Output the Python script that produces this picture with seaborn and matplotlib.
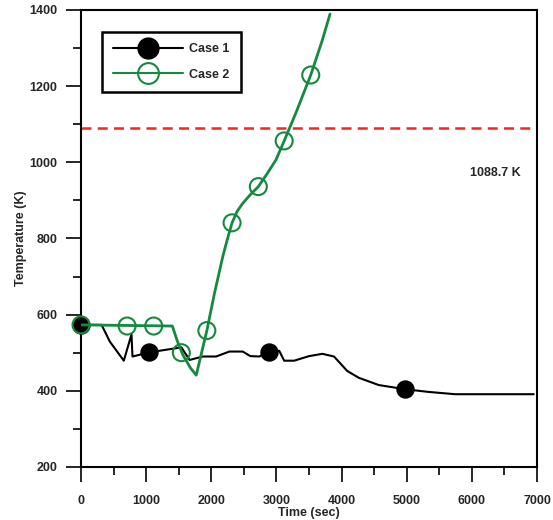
import numpy as np
import pandas as pd
import matplotlib.pyplot as plt
import seaborn as sns
from matplotlib.lines import Line2D
from matplotlib.ticker import MultipleLocator

# Case 1 curve
case1_time = [0, 316, 443, 657, 775, 790, 1055, 1540, 1667, 1870, 2075, 2278, 2482, 2600, 2737,
              2880, 3043, 3119, 3272, 3502, 3705, 3884, 4087, 4266, 4572, 4980, 5336, 5745, 6950]
case1_temp = [573, 573, 529, 479, 548, 490, 501, 514, 481, 490, 490, 503, 503, 491, 490,
              501, 505, 479, 479, 491, 497, 490, 452, 434, 415, 404, 397, 391, 391]
case1_mark_time = [0, 1050, 2880, 4980]
case1_mark_temp = [573, 501, 501, 404]

# Case 2 curve
case2_time = [0, 1402, 1480, 1565, 1680, 1769, 1932, 2049, 2176, 2250, 2319, 2400, 2482, 2600,
              2722, 2850, 2992, 3119, 3300, 3527, 3700, 3823]
case2_temp = [573, 570, 530, 494, 460, 441, 558, 656, 752, 800, 841, 872, 892, 915,
              936, 968, 1006, 1056, 1130, 1229, 1318, 1389]
case2_mark_time = [0, 708, 1116, 1540, 1932, 2319, 2722, 3119, 3527]
case2_mark_temp = [573, 570, 570, 500, 558, 841, 936, 1056, 1229]

limit_temp = 1088.7

green = '#138a3e'

sns.set_theme(style="ticks")
plt.rcParams['font.family'] = ['Liberation Sans', 'DejaVu Sans']
plt.rcParams['font.weight'] = 'bold'

fig = plt.figure(figsize=(5.53, 5.2), dpi=100)
ax = fig.add_axes([0.1465, 0.102, 0.8245, 0.879])

c1 = pd.DataFrame({'t': case1_time, 'T': case1_temp})
c2 = pd.DataFrame({'t': case2_time, 'T': case2_temp})
m1 = pd.DataFrame({'t': case1_mark_time, 'T': case1_mark_temp})

sns.lineplot(data=c1, x='t', y='T', color='black', linewidth=1.5, sort=False, ax=ax, zorder=3)
sns.scatterplot(data=m1, x='t', y='T', color='black', s=150, edgecolor='black', ax=ax,
                zorder=4, clip_on=False)
sns.lineplot(data=c2, x='t', y='T', color=green, linewidth=2, sort=False, ax=ax, zorder=5)
ax.scatter(case2_mark_time, case2_mark_temp, s=150, facecolors='none', edgecolors=green,
           linewidths=1.5, zorder=6, clip_on=False)

ax.axhline(limit_temp, color='#ff2020', linestyle=(0, (4, 2.5)), linewidth=1.8, zorder=2)
ax.text(5974, 972, '1088.7 K', fontsize=9, fontweight='bold', va='center', ha='left')

ax.set_xlim(0, 7000)
ax.set_ylim(200, 1400)
ax.xaxis.set_major_locator(MultipleLocator(1000))
ax.xaxis.set_minor_locator(MultipleLocator(500))
ax.yaxis.set_major_locator(MultipleLocator(200))
ax.yaxis.set_minor_locator(MultipleLocator(100))
ax.tick_params(which='major', direction='out', length=11, width=1.4, labelsize=9, pad=6)
ax.tick_params(axis='x', which='major', pad=9)
ax.tick_params(which='minor', direction='out', length=6, width=1.4)
for lab in ax.get_xticklabels() + ax.get_yticklabels():
    lab.set_fontweight('bold')
for sp in ax.spines.values():
    sp.set_linewidth(1.5)
    sp.set_color('black')

ax.set_xlabel('Time (sec)', fontsize=9, fontweight='bold', labelpad=0)
ax.set_ylabel('Temperature (K)', fontsize=9, fontweight='bold', labelpad=2)

handles = [
    Line2D([], [], color='black', linewidth=1.5, marker='o', markersize=15,
           markerfacecolor='black', markeredgecolor='black'),
    Line2D([], [], color=green, linewidth=1.5, marker='o', markersize=15,
           markerfacecolor='none', markeredgecolor=green, markeredgewidth=1.5),
]
leg = ax.legend(handles, ['Case 1', 'Case 2'], loc='upper left', bbox_to_anchor=(0.046, 0.952),
                borderaxespad=0, fancybox=False, edgecolor='black', framealpha=1,
                handlelength=5.6, handletextpad=0.5, prop={'weight': 'bold', 'size': 9},
                borderpad=0.9, labelspacing=1.1)
leg.get_frame().set_linewidth(1.8)

fig.savefig('out.png', dpi=100)
